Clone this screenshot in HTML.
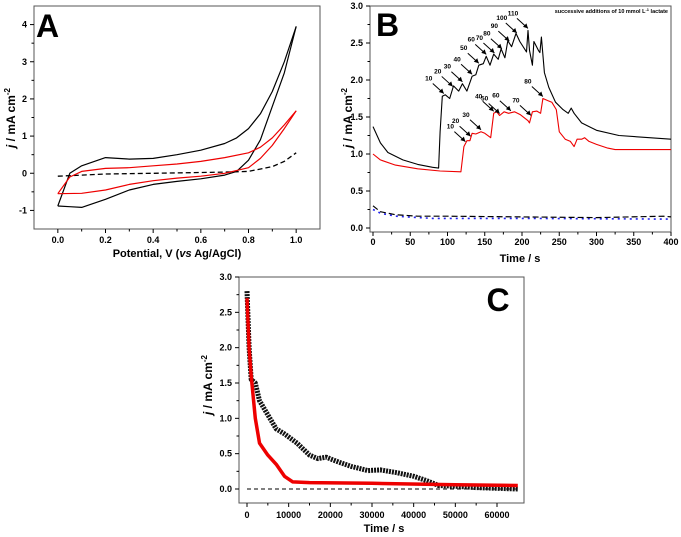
<!DOCTYPE html>
<html><head><meta charset="utf-8"><style>
html,body{margin:0;padding:0;background:#fff;}
svg{display:block;font-family:"Liberation Sans",Arial,sans-serif;font-weight:bold;}
</style></head><body>
<svg id="fig" width="681" height="537" viewBox="0 0 681 537" xmlns="http://www.w3.org/2000/svg"></svg>
<script>
// ---- Panel A data ----
const aBlackFwdX=[0,0.05,0.1,0.2,0.3,0.4,0.5,0.6,0.7,0.75,0.8,0.85,0.9,0.95,1.0];
const aBlackFwdY=[-0.88,0,0.2,0.42,0.38,0.4,0.5,0.62,0.8,0.95,1.2,1.6,2.2,3.0,3.95];
const aBlackBackX=[1.0,0.95,0.9,0.85,0.8,0.75,0.7,0.6,0.5,0.4,0.3,0.2,0.1,0.05,0];
const aBlackBackY=[3.95,2.7,1.8,0.9,0.35,0.05,-0.05,-0.15,-0.22,-0.3,-0.45,-0.7,-0.92,-0.9,-0.88];
const aRedFwdX=[0,0.05,0.1,0.2,0.3,0.4,0.5,0.6,0.7,0.8,0.85,0.9,0.95,1.0];
const aRedFwdY=[-0.55,-0.1,0.05,0.13,0.15,0.2,0.25,0.32,0.42,0.55,0.7,0.95,1.3,1.68];
const aRedBackX=[1.0,0.95,0.9,0.85,0.8,0.7,0.6,0.5,0.4,0.3,0.2,0.1,0];
const aRedBackY=[1.68,1.2,0.75,0.4,0.15,0.0,-0.08,-0.13,-0.2,-0.3,-0.45,-0.54,-0.55];
const aDashX=[0,0.2,0.4,0.6,0.7,0.8,0.9,0.95,1.0];
const aDashY=[-0.08,-0.02,0,0.02,0.03,0.05,0.18,0.32,0.55];
const aXTicks=["0.0","0.2","0.4","0.6","0.8","1.0"];
const aYTicks=["-1","0","1","2","3","4"];
// ---- Panel B data ----
const bBlackT=[0,10,20,40,60,80,88,90,93,97,103,108,115,120,126,133,138,142,148,152,157,162,168,172,177,181,186,192,197,206,208,210,214,216,222,224,226,230,236,245,255,262,266,270,280,300,330,400];
const bBlackJ=[1.37,1.15,1.02,0.92,0.86,0.82,0.81,1.3,1.78,1.8,1.75,1.92,1.85,1.95,1.85,2.05,2.07,2.2,2.22,2.32,2.2,2.35,2.28,2.42,2.3,2.53,2.45,2.63,2.52,2.38,2.67,2.4,2.2,2.52,2.4,2.37,2.58,2.1,1.9,1.7,1.6,1.55,1.62,1.55,1.42,1.32,1.25,1.2];
const bRedT=[0,10,30,60,90,118,122,126,130,133,138,145,150,158,162,166,170,176,182,190,198,208,210,214,220,225,228,235,240,246,250,258,265,270,274,280,284,290,300,315,325,400];
const bRedJ=[1.0,0.92,0.85,0.8,0.77,0.76,1.1,1.18,1.18,1.28,1.27,1.3,1.28,1.22,1.55,1.57,1.52,1.57,1.55,1.57,1.53,1.45,1.42,1.57,1.58,1.55,1.75,1.72,1.7,1.6,1.3,1.2,1.17,1.1,1.2,1.2,1.22,1.17,1.13,1.08,1.06,1.06];
const bDashT=[0,10,30,60,100,200,300,390,400];
const bDashJ=[0.3,0.22,0.18,0.16,0.16,0.15,0.14,0.16,0.15];
const bBlueT=[0,10,30,80,200,400];
const bBlueJ=[0.25,0.2,0.16,0.13,0.13,0.12];
const bBlackLabels=["10","20","30","40","50","60","70","80","90","100","110"];
const bBlackLabelT=[95,107,120,133,142,152,163,173,183,193,208];
const bRedLabels=["10","20","30","40","50","60","70","80"];
const bRedLabelT=[124,131,145,162,170,185,212,228];
const bXTicks=["0","50","100","150","200","250","300","350","400"];
const bYTicks=["0.0","0.5","1.0","1.5","2.0","2.5","3.0"];
// ---- Panel C data ----
const cBlackT=[0,500,1000,2000,3000,5000,7000,9000,12000,15000,17000,19000,22000,25000,29000,32000,36000,40000,43000,46000,50000,55000,65000];
const cBlackJ=[2.8,2.0,1.55,1.5,1.25,1.05,0.85,0.78,0.65,0.48,0.43,0.45,0.38,0.32,0.26,0.27,0.23,0.18,0.12,0.05,0.04,0.02,0.0];
const cRedT=[0,500,1000,2000,3000,5000,7000,9000,11000,15000,30000,50000,65000];
const cRedJ=[2.7,2.0,1.6,1.0,0.65,0.48,0.35,0.18,0.1,0.09,0.08,0.06,0.05];
const cXTicks=["0","10000","20000","30000","40000","50000","60000"];
const cYTicks=["0.0","0.5","1.0","1.5","2.0","2.5","3.0"];

const NS="http://www.w3.org/2000/svg";
const svg=document.getElementById('fig');
function mk(tag,attrs,parent){const e=document.createElementNS(NS,tag);for(const k in attrs)e.setAttribute(k,attrs[k]);(parent||svg).appendChild(e);return e;}
function lin(d0,d1,r0,r1){return v=>r0+(v-d0)*(r1-r0)/(d1-d0);}
function pathD(xs,ys,sx,sy){return xs.map((x,i)=>(i?'L':'M')+sx(x).toFixed(1)+','+sy(ys[i]).toFixed(1)).join('');}

function axes(p){
  const g=mk('g',{});
  
  
  const fr=mk('rect',{x:p.L,y:p.T,width:p.R-p.L,height:p.B-p.T,fill:'none',stroke:'#555','stroke-width':1},g);
  
  
  p.xt.forEach((lab,i)=>{const v=p.xv[i];const x=p.sx(v);
    mk('line',{x1:x,y1:p.B,x2:x,y2:p.B+4,stroke:'#000'},g);
    const t=mk('text',{x:x,y:p.B+p.tl,'font-size':9,'text-anchor':'middle'},g);t.textContent=lab;
    
    
    if(i<p.xt.length-1){const m=p.sx((v+p.xv[i+1])/2);mk('line',{x1:m,y1:p.B,x2:m,y2:p.B+2.5,stroke:'#000'},g);}
  });
  p.yt.forEach((lab,i)=>{const v=p.yv[i];const y=p.sy(v);
    mk('line',{x1:p.L-4,y1:y,x2:p.L,y2:y,stroke:'#000'},g);
    const t=mk('text',{x:p.L-7,y:y+3,'font-size':9,'text-anchor':'end'},g);t.textContent=lab;
    
    
    if(i<p.yt.length-1){const m=p.sy((v+p.yv[i+1])/2);mk('line',{x1:p.L-2.5,y1:m,x2:p.L,y2:m,stroke:'#000'},g);}
  });
}
function line(xs,ys,sx,sy,stroke,w,dash,name){
  const e=mk('path',{d:pathD(xs,ys,sx,sy),fill:'none',stroke:stroke,'stroke-width':w,'stroke-linejoin':'round'});
  if(dash)e.setAttribute('stroke-dasharray',dash);
  
  
  return e;
}
function text(x,y,s,size,name,extra){const t=mk('text',Object.assign({x:x,y:y,'font-size':size},extra||{}));t.textContent=s;
  
  
  return t;}
function ylabel(x,y,name){const t=mk('text',{x:0,y:0,'font-size':12,'text-anchor':'middle',transform:`translate(${x},${y}) rotate(-90)`});
  t.innerHTML='<tspan font-style="italic">j</tspan> / mA cm<tspan dy="-5" font-size="8">-2</tspan>';
  
  }

// Panel A
const axS=lin(-0.1,1.1,34,320), ayS=lin(-1.5,4.5,229,6);
axes({name:'panel-a',L:34,R:320,T:6,B:229,tl:14,sx:axS,sy:ayS,xt:aXTicks,xv:aXTicks.map(Number),yt:aYTicks,yv:aYTicks.map(Number)});
line(aDashX,aDashY,axS,ayS,'#000',1.3,'5,3','a-dashed-blank');
line(aBlackFwdX,aBlackFwdY,axS,ayS,'#000',1.2,null,'a-black-forward');
line(aBlackBackX,aBlackBackY,axS,ayS,'#000',1.2,null,'a-black-backward');
line(aRedFwdX,aRedFwdY,axS,ayS,'#e00',1.2,null,'a-red-forward');
line(aRedBackX,aRedBackY,axS,ayS,'#e00',1.2,null,'a-red-backward');
text(36,37,'A',32,'panel-a-letter');
{const t=mk('text',{x:177,y:257,'font-size':11,'text-anchor':'middle'});t.innerHTML='Potential, V (<tspan font-style="italic">vs</tspan> Ag/AgCl)';

}
ylabel(15,118,'a-y-axis-title');

// Panel B
const bxS=lin(0,400,373,671), byS=lin(0,3,228,6);
axes({name:'panel-b',L:370,R:671,T:6,B:232,tl:13,sx:bxS,sy:byS,xt:bXTicks,xv:bXTicks.map(Number),yt:bYTicks,yv:bYTicks.map(Number)});
line(bBlueT,bBlueJ,bxS,byS,'#22e',1.6,'2,4','b-blue-dotted');
line(bDashT,bDashJ,bxS,byS,'#000',1.2,'6,3','b-black-dashed');
line(bBlackT,bBlackJ,bxS,byS,'#000',1.1,null,'b-black-trace');
line(bRedT,bRedJ,bxS,byS,'#e00',1.1,null,'b-red-trace');
function interp(ts,js,t){for(let i=1;i<ts.length;i++){if(t<=ts[i]){const f=(t-ts[i-1])/(ts[i]-ts[i-1]);return js[i-1]+f*(js[i]-js[i-1]);}}return js[js.length-1];}
function arrows(labels,times,ts,js,name){
  labels.forEach((lab,i)=>{const x=bxS(times[i]),y=byS(interp(ts,js,times[i]))-2;
    const a=mk('line',{x1:x-11,y1:y-10,x2:x,y2:y,stroke:'#000','stroke-width':1});
    
    
    const h=mk('polygon',{points:`${x},${y} ${x-5},${y-1.5} ${x-1.5},${y-5}`,fill:'#000'});
    
    
    text(x-15,y-13,lab,6.5,name+'-label',{'text-anchor':'middle'});
  });
}
arrows(bBlackLabels,bBlackLabelT,bBlackT,bBlackJ,'b-black-addition');
arrows(bRedLabels,bRedLabelT,bRedT,bRedJ,'b-red-addition');
text(376,36,'B',32,'panel-b-letter');
{const t=mk('text',{x:668,y:13,'font-size':5.5,'text-anchor':'end'});t.innerHTML='successive additions of 10 mmol L<tspan dy="-2" font-size="4">-1</tspan><tspan dy="2"> lactate</tspan>';

}
text(520,262,'Time / s',11,'b-x-axis-title',{'text-anchor':'middle'});
ylabel(352,118,'b-y-axis-title');

// Panel C
const cxS=lin(0,60000,247,497), cyS=lin(0,3,489,277);
axes({name:'panel-c',L:239,R:524,T:277,B:503,tl:15,sx:cxS,sy:cyS,xt:cXTicks,xv:cXTicks.map(Number),yt:cYTicks,yv:cYTicks.map(Number)});
{const z=mk('line',{x1:cxS(0),y1:cyS(0),x2:cxS(65000),y2:cyS(0),stroke:'#000','stroke-dasharray':'4,3'});

}
line(cBlackT,cBlackJ,cxS,cyS,'#111',5,'2,1','c-black-trace');
line(cRedT,cRedJ,cxS,cyS,'#e00',3.5,null,'c-red-trace');
text(498,311,'C',32,'panel-c-letter',{'text-anchor':'middle'});
text(384,532,'Time / s',11,'c-x-axis-title',{'text-anchor':'middle'});
ylabel(212,385,'c-y-axis-title');
</script>
</body></html>
